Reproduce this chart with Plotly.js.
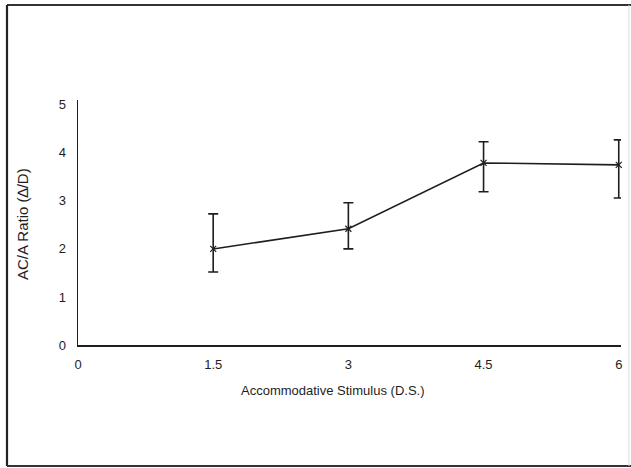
<!DOCTYPE html>
<html>
<head>
<meta charset="utf-8">
<script src="https://cdn.plot.ly/plotly-3.0.1.min.js"></script>
<style>
html,body{margin:0;padding:0;background:#fff;}
#chart{width:631px;height:468px;}
</style>
</head>
<body>
<div id="chart"></div>
<script>
// Data
const stimulus = [1.5, 3, 4.5, 6];
const acaRatio = [2.0, 2.42, 3.79, 3.75];
const errUpper = [0.73, 0.54, 0.44, 0.52];
const errLower = [0.48, 0.42, 0.60, 0.69];
const xTicks = [0, 1.5, 3, 4.5, 6];
const xTickText = ['0', '1.5', '3', '4.5', '6'];
const yTicks = [0, 1, 2, 3, 4, 5];
const xTitle = 'Accommodative Stimulus (D.S.)';
const yTitle = 'AC/A Ratio (\u2206/D)';

const ink = '#1e1e1e';
const L = 78, R = 10, T = 100, B = 123, W = 631, H = 468;
const pw = W - L - R, ph = H - T - B;
function px(x){ return (x - L) / pw; }
function py(y){ return (H - B - y) / ph; }

const trace = {
  x: stimulus,
  y: acaRatio,
  type: 'scatter',
  mode: 'lines+markers',
  line: {color: ink, width: 1.6},
  marker: {symbol: 'x-thin-open', size: 6, color: ink, line: {color: ink, width: 1.2}},
  error_y: {
    type: 'data', symmetric: false,
    array: errUpper, arrayminus: errLower,
    color: ink, thickness: 1.6, width: 5
  },
  cliponaxis: false,
  showlegend: false,
  hoverinfo: 'skip'
};

function frameLine(x0, y0, x1, y1, color, width){
  return {type: 'line', xref: 'paper', yref: 'paper',
    x0: px(x0), x1: px(x1), y0: py(y0), y1: py(y1),
    line: {color: color, width: width}, layer: 'below'};
}

const layout = {
  width: W, height: H,
  margin: {l: L, r: R, t: T, b: B},
  paper_bgcolor: '#fff',
  plot_bgcolor: '#fff',
  font: {family: '"Liberation Sans", Arial, Helvetica, sans-serif', size: 13, color: ink},
  xaxis: {
    range: [0, 6.025],
    tickvals: xTicks, ticktext: xTickText,
    showgrid: false, zeroline: false,
    showline: true, linecolor: ink, linewidth: 1.5,
    ticks: 'outside', ticklen: 7, tickcolor: 'rgba(0,0,0,0)',
    fixedrange: true
  },
  yaxis: {
    range: [0, 5.1],
    tickvals: yTicks,
    showgrid: false, zeroline: false,
    showline: true, linecolor: ink, linewidth: 1.5,
    ticks: 'outside', ticklen: 8, tickcolor: 'rgba(0,0,0,0)',
    fixedrange: true
  },
  annotations: [
    {text: xTitle, xref: 'paper', yref: 'paper', x: px(333), y: py(390),
     xanchor: 'center', yanchor: 'middle', showarrow: false, font: {size: 13}},
    {text: yTitle, xref: 'paper', yref: 'paper', x: px(22), y: py(224),
     xanchor: 'center', yanchor: 'middle', textangle: -90, showarrow: false, font: {size: 15}}
  ],
  shapes: [
    frameLine(7, 5, 631, 5, '#333', 2.2),
    frameLine(7, 5, 7, 466, '#222', 2.2),
    frameLine(7, 466, 631, 466, '#333', 2.2),
    frameLine(629, 5, 629, 466, '#ddd', 1)
  ]
};

Plotly.newPlot('chart', [trace], layout, {staticPlot: true, displayModeBar: false});
</script>
</body>
</html>
